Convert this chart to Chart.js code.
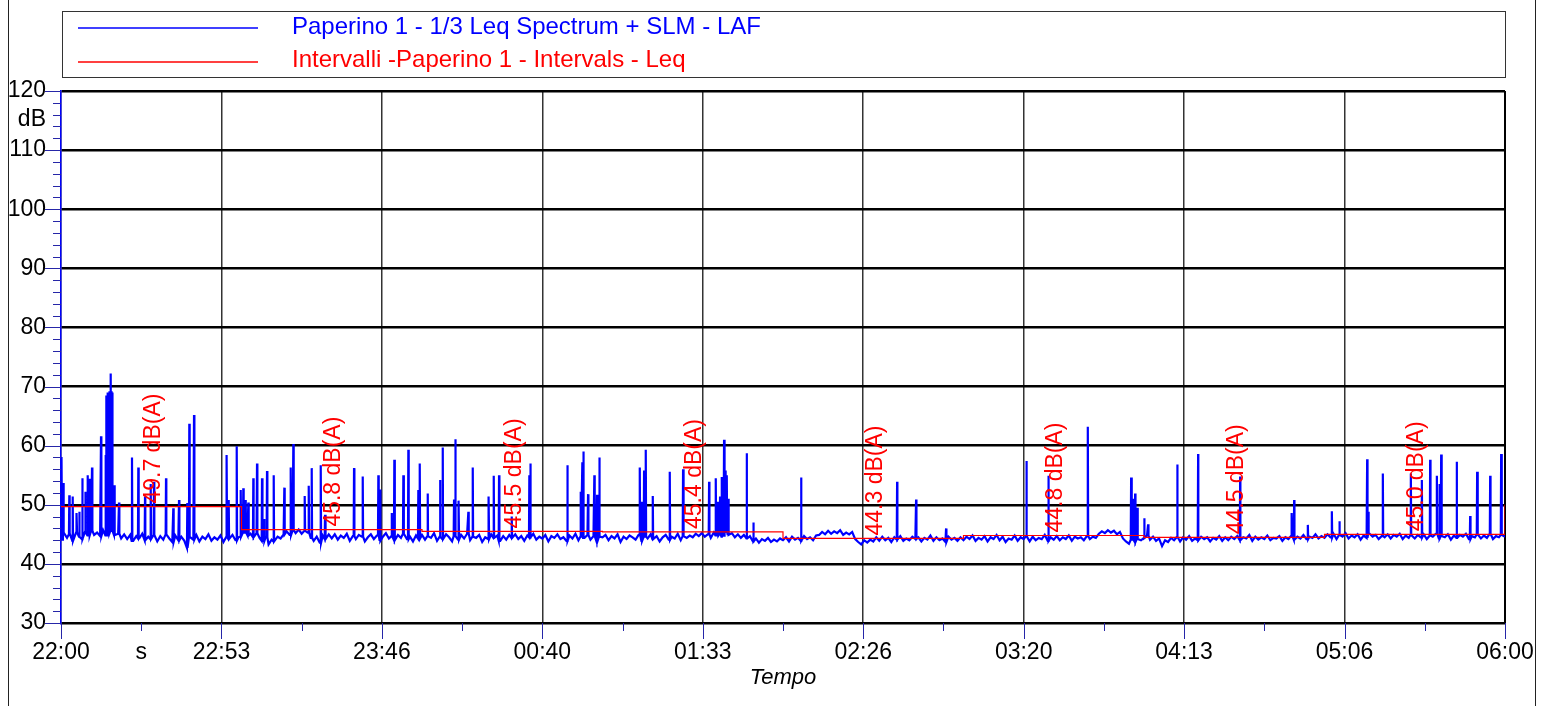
<!DOCTYPE html>
<html>
<head>
<meta charset="utf-8">
<title>Paperino 1 - LAF</title>
<script src="https://cdn.jsdelivr.net/npm/chart.js@4.4.0/dist/chart.umd.min.js"></script>
<style>
  html, body { margin: 0; padding: 0; background: #fff; }
  #wrap { position: relative; width: 1543px; height: 706px; }
</style>
</head>
<body>
<div id="wrap"><canvas id="leqChart"></canvas></div>
<script>
// x axis: minutes since 22:00, 18 ticks over the 8 hours (every other one labelled)
const xTickLabels = ["22:00", "s", "22:53", "", "23:46", "", "00:40", "", "01:33", "",
  "02:26", "", "03:20", "", "04:13", "", "05:06", "", "06:00"];
const totalMinutes = 480;

// LAF background level, one reading per minute from 22:00 to 06:00
const baseLevel = [
  44.1, 45.2, 44.4, 45.0, 43.9, 45.3, 44.6, 44.2, 45.4, 44.8, 45.6, 44.9, 45.3, 44.7, 45.7, 44.8, 45.2, 45.6, 44.9, 45.1, 44.3, 45.0, 44.2, 44.9, 43.9, 44.7, 44.3, 45.1, 44.0, 44.6,
  44.2, 44.9, 43.8, 44.7, 44.1, 45.0, 44.3, 43.7, 44.8, 44.0, 44.6, 43.9, 42.7, 44.5, 44.1, 44.9, 43.8, 44.6, 44.2, 45.0, 43.9, 44.5, 44.1, 44.8, 43.7, 44.6, 44.2, 44.9, 44.0, 44.5,
  44.6, 45.3, 44.8, 45.1, 44.5, 45.2, 44.4, 43.9, 44.5, 43.3, 44.1, 43.8, 44.6, 44.3, 45.0, 45.5, 44.9, 45.7, 45.2, 45.8, 45.1, 45.6, 45.3, 44.4, 43.9, 44.6, 43.6, 44.8, 44.2, 45.0,
  44.3, 45.0, 44.1, 44.8, 44.4, 45.1, 43.9, 44.7, 44.2, 44.9, 44.6, 43.8, 44.5, 45.0, 44.2, 44.8, 43.9, 44.6, 45.2, 44.3, 44.7, 44.0, 44.9, 44.4, 45.1, 44.2, 44.6, 43.8, 44.8, 44.3,
  44.9, 44.1, 44.7, 44.4, 45.2, 43.9, 44.6, 44.2, 45.0, 44.5, 43.8, 44.7, 44.1, 44.9, 44.3, 45.1, 44.0, 44.6, 44.4, 44.9, 43.7, 44.5, 44.2, 45.0, 44.4, 44.8, 43.9, 44.7, 44.1, 44.9,
  44.4, 45.0, 44.2, 44.7, 43.9, 44.8, 44.5, 45.1, 44.1, 44.6, 44.3, 44.9, 43.8, 44.7, 44.4, 45.0, 44.2, 44.5, 43.9, 44.8, 44.3, 45.1, 44.0, 44.6, 44.4, 44.9, 44.1, 44.7, 43.8, 44.6,
  44.5, 44.9, 44.0, 44.7, 44.3, 45.0, 43.7, 44.6, 44.2, 44.8, 44.5, 44.1, 44.9, 43.9, 44.6, 44.3, 45.0, 44.2, 44.7, 43.8, 44.5, 44.9, 44.1, 44.6, 44.3, 45.1, 44.0, 44.7, 44.4, 44.8,
  44.5, 45.1, 44.7, 45.2, 44.6, 45.0, 44.4, 45.3, 44.8, 45.1, 44.6, 45.4, 44.9, 45.2, 44.5, 45.0, 44.4, 44.9, 44.3, 44.7, 43.8, 44.3, 43.6, 44.2, 43.9, 44.4, 43.7, 44.1, 43.8, 44.3,
  44.0, 44.5, 43.8, 44.6, 44.1, 44.4, 43.9, 44.7, 44.2, 44.5, 44.0, 44.8, 44.9, 45.4, 45.0, 45.6, 45.1, 45.5, 45.2, 45.7, 44.9, 45.3, 45.0, 45.4, 44.2, 43.7, 43.3, 44.0, 43.6, 44.1,
  43.8, 44.5, 43.9, 44.6, 44.0, 44.4, 43.7, 44.5, 44.1, 44.7, 43.9, 44.3, 44.0, 44.6, 44.2, 44.5, 43.8, 44.4, 44.1, 44.8, 43.9, 44.5, 44.0, 44.3, 43.7, 44.6, 44.1, 44.4, 43.9, 44.5,
  44.0, 44.6, 44.2, 44.8, 43.9, 44.4, 44.1, 44.7, 43.8, 44.5, 44.2, 44.9, 44.0, 44.6, 43.7, 44.3, 44.1, 44.8, 43.9, 44.5, 44.2, 44.7, 43.8, 44.6, 44.0, 44.4, 44.2, 44.9, 43.9, 44.5,
  44.1, 44.7, 44.0, 44.5, 44.2, 44.8, 43.9, 44.6, 44.3, 44.5, 44.0, 44.7, 44.2, 44.6, 44.4, 45.1, 45.5, 45.2, 45.7, 45.3, 45.6, 45.0, 45.4, 44.3, 43.8, 43.4, 44.1, 43.7, 44.2, 44.0,
  44.4, 44.8, 44.1, 44.6, 43.9, 44.3, 43.0, 44.0, 43.7, 44.4, 44.0, 44.6, 43.8, 44.5, 44.1, 44.7, 43.9, 44.3, 44.0, 44.6, 44.2, 44.5, 43.8, 44.4, 44.1, 44.7, 43.9, 44.5, 44.0, 44.6,
  44.2, 44.7, 44.0, 44.5, 44.3, 44.9, 43.9, 44.6, 44.1, 44.5, 44.2, 44.8, 44.0, 44.4, 44.3, 44.7, 43.9, 44.5, 44.2, 44.8, 44.1, 44.6, 44.3, 44.9, 44.2, 44.6, 44.4, 45.0, 44.3, 44.7,
  44.4, 45.0, 44.5, 45.1, 44.2, 44.9, 44.6, 45.2, 44.3, 44.8, 44.5, 45.0, 44.1, 44.8, 44.4, 45.1, 44.6, 44.9, 44.2, 44.7, 44.5, 45.0, 44.3, 44.9, 44.6, 45.1, 44.2, 44.8, 44.4, 44.9,
  44.3, 44.9, 44.5, 45.0, 44.2, 44.8, 44.6, 45.1, 44.3, 44.7, 44.5, 45.0, 44.1, 44.8, 44.4, 44.9, 44.6, 45.1, 44.2, 44.7, 44.5, 45.0, 44.3, 44.8, 44.4, 45.1, 44.2, 44.7, 44.5, 44.9,
  44.6
];

// short noise events (minute, peak dB)
const spikeMinutes = [
  0.23, 0.76, 2.76, 3.89, 5.22, 6.08, 7.08, 8.08, 8.88, 9.41, 10.31, 13.30, 14.86,
  15.10, 15.46, 15.79, 16.12, 16.52, 16.79, 17.05, 17.72, 19.28, 23.60, 25.70, 27.93,
  29.82, 30.92, 34.91, 37.33, 39.23, 41.99, 42.65, 44.22, 55.09, 55.75, 58.41, 59.74,
  60.60, 61.40, 62.27, 63.93, 65.16, 66.82, 67.49, 68.48, 70.71, 74.24, 76.36, 77.23,
  81.02, 82.35, 83.34, 86.34, 87.77, 97.41, 100.30, 105.49, 106.05, 109.94, 110.80,
  113.80, 115.46, 118.78, 119.25, 121.91, 126.00, 126.90, 130.65, 131.08, 132.21,
  135.41, 136.87, 142.19, 143.85, 145.61, 149.83, 155.68, 156.02, 168.32, 172.77,
  173.30, 173.64, 175.20, 177.29, 178.19, 178.96, 192.39, 193.05, 193.82, 194.38,
  196.71, 202.36, 206.78, 215.43, 217.65, 218.42, 219.08, 219.65, 220.08, 220.41,
  220.74, 221.31, 221.74, 227.96, 230.15, 246.01, 277.93, 284.24, 294.21, 320.91,
  328.22, 341.32, 355.72, 356.38, 357.05, 357.71, 360.14, 361.37, 371.11, 377.99,
  391.96, 409.14, 409.91, 414.46, 422.44, 424.97, 434.18, 434.61, 439.39, 448.70,
  452.36, 455.12, 457.35, 458.21, 458.78, 463.99, 468.42, 470.74, 475.07, 478.72
];
const spikeLevels = [
  58.1, 53.7, 51.6, 51.4, 48.6, 48.8, 54.5, 52.2, 55.0, 54.4, 56.3, 61.6, 58.4,
  68.5, 69.0, 68.8, 69.2, 72.2, 69.2, 69.0, 53.3, 50.4, 58.0, 56.3, 51.4,
  53.5, 53.9, 54.5, 49.4, 50.8, 50.3, 63.7, 65.2, 58.4, 50.8, 59.9, 52.5,
  52.8, 50.8, 50.4, 54.5, 57.0, 54.5, 47.6, 55.7, 55.0, 52.9, 56.3, 60.3,
  51.5, 53.2, 56.2, 56.7, 48.3, 56.2, 54.8, 55.0, 52.6, 48.6, 57.6,
  55.0, 59.3, 52.5, 57.0, 51.9, 54.2, 59.7, 50.9, 61.1, 50.7,
  48.8, 56.3, 51.4, 54.9, 55.0, 48.0, 55.0, 57.0, 56.7, 52.2,
  57.2, 59.0, 51.8, 55.0, 51.7, 58.0, 56.3, 50.5, 55.8, 59.3,
  51.5, 55.6, 56.0, 53.9, 54.5, 50.5, 51.4, 54.7, 52.0, 61.0,
  55.8, 55.0, 51.0, 58.7, 47.0, 54.6, 53.9, 50.9, 46.0, 57.4,
  54.9, 63.2, 54.6, 51.0, 51.9, 49.5, 47.7, 46.7, 56.8, 58.6,
  54.8, 48.6, 50.8, 46.6, 48.9, 47.2, 57.7, 48.8, 55.3, 55.3,
  54.2, 57.6, 54.9, 53.5, 58.5, 57.3, 48.1, 55.6, 54.9, 58.6
];

// hourly intervals Leq (last value is the start of the next interval)
const intervalMinutes = [0, 60, 120, 180, 240, 300, 360, 420, 480];
const intervalLeq = [49.7, 45.8, 45.5, 45.4, 44.3, 44.8, 44.5, 45.0, 50.0];

const seriesNames = [
  "Paperino 1 - 1/3 Leq Spectrum + SLM - LAF",
  "Intervalli -Paperino 1 - Intervals - Leq"
];

const FONT = "'Liberation Sans', Arial, sans-serif";
const BLUE = "#0000ff";
const RED = "#ff0000";
const TICK_BLUE = "#2626a8";

// build the LAF trace: background readings plus each event as a narrow peak
const lafPoints = baseLevel.map((v, i) => ({ x: i, y: v }));
spikeMinutes.forEach((t, i) => {
  const base = baseLevel[Math.round(t)];
  lafPoints.push({ x: t - 0.12, y: base }, { x: t, y: spikeLevels[i] }, { x: t + 0.12, y: base });
});
lafPoints.sort((a, b) => a.x - b.x);

const leqPoints = intervalMinutes.map((m, i) => ({ x: m, y: intervalLeq[i] }));

const decorPlugin = {
  id: "decor",
  beforeDraw(chart) {
    const ctx = chart.ctx;
    ctx.save();
    ctx.fillStyle = "#fff";
    ctx.fillRect(0, 0, chart.width, chart.height);

    // outer frame sides
    ctx.strokeStyle = "#222";
    ctx.lineWidth = 1;
    ctx.beginPath();
    ctx.moveTo(8.5, 0);
    ctx.lineTo(8.5, chart.height);
    ctx.moveTo(1535.5, 0);
    ctx.lineTo(1535.5, chart.height);
    ctx.stroke();

    // legend
    ctx.strokeStyle = "#333";
    ctx.strokeRect(62.5, 11.5, 1443, 66);
    const colors = [BLUE, RED];
    const lineY = [28, 62];
    const textY = [33.5, 66.5];
    ctx.font = "24px " + FONT;
    ctx.textAlign = "left";
    ctx.textBaseline = "alphabetic";
    seriesNames.forEach((name, i) => {
      ctx.strokeStyle = colors[i];
      ctx.lineWidth = 1.5;
      ctx.beginPath();
      ctx.moveTo(78, lineY[i]);
      ctx.lineTo(258, lineY[i]);
      ctx.stroke();
      ctx.fillStyle = colors[i];
      ctx.fillText(name, 292, textY[i]);
    });
    ctx.restore();
  },
  afterDraw(chart) {
    const ctx = chart.ctx;
    const xs = chart.scales.x;
    const ys = chart.scales.y;
    const area = chart.chartArea;
    ctx.save();

    // tick marks
    ctx.strokeStyle = TICK_BLUE;
    ctx.lineWidth = 1;
    ctx.beginPath();
    xs.ticks.forEach((t, i) => {
      const px = Math.round(xs.getPixelForValue(t.value)) + 0.5;
      ctx.moveTo(px, area.bottom);
      ctx.lineTo(px, area.bottom + (i % 2 === 0 ? 16 : 8));
    });
    ys.ticks.forEach((t) => {
      const py = Math.round(ys.getPixelForValue(t.value)) + 0.5;
      ctx.moveTo(area.left, py);
      ctx.lineTo(area.left - (t.value % 10 === 0 ? 16 : 8), py);
    });
    ctx.stroke();

    // unit of the y axis
    ctx.fillStyle = "#000";
    ctx.font = "23px " + FONT;
    ctx.textAlign = "right";
    ctx.textBaseline = "middle";
    ctx.fillText("dB", 46, ys.getPixelForValue(115.1));

    // interval values, written upwards from the Leq line
    ctx.fillStyle = RED;
    ctx.textAlign = "left";
    ctx.textBaseline = "alphabetic";
    for (let i = 0; i < intervalMinutes.length - 1; i++) {
      const mid = (intervalMinutes[i] + intervalMinutes[i + 1]) / 2;
      const px = xs.getPixelForValue(mid) + 8.5;
      const py = ys.getPixelForValue(intervalLeq[i]) - 3;
      ctx.save();
      ctx.translate(px, py);
      ctx.rotate(-Math.PI / 2);
      ctx.fillText(intervalLeq[i].toFixed(1) + " dB(A)", 0, 0);
      ctx.restore();
    }
    ctx.restore();
  }
};

const ctx = document.getElementById("leqChart").getContext("2d");
const leqChart = new Chart(ctx, {
  type: "line",
  data: {
    datasets: [
      {
        label: seriesNames[0],
        data: lafPoints,
        borderColor: BLUE,
        borderWidth: 2.2,
        pointRadius: 0,
        tension: 0,
        order: 1,
      },
      {
        label: seriesNames[1],
        data: leqPoints,
        borderColor: RED,
        borderWidth: 1.2,
        pointRadius: 0,
        stepped: true,
        order: 0,
      },
    ],
  },
  options: {
    responsive: true,
    maintainAspectRatio: false,
    animation: false,
    layout: {
      padding: { top: 91, right: 38, left: 0, bottom: 0 },
    },
    scales: {
      x: {
        type: "linear",
        min: 0,
        max: totalMinutes,
        afterBuildTicks: function (scale) {
          scale.ticks = xTickLabels.map((_, i) => ({ value: (i * totalMinutes) / (xTickLabels.length - 1) }));
        },
        afterFit: function (scale) {
          scale.height = 83;
          scale.paddingLeft = 0;
          scale.paddingRight = 0;
        },
        ticks: {
          autoSkip: false,
          maxRotation: 0,
          padding: 16,
          color: "#000",
          font: { family: FONT, size: 23 },
          callback: function (value, index) {
            return xTickLabels[index];
          },
        },
        grid: {
          drawTicks: false,
          color: function (c) {
            if (c.index % 2 !== 0) return "rgba(0,0,0,0)";
            return c.index === xTickLabels.length - 1 ? "#000" : "#333";
          },
          lineWidth: function (c) {
            return c.index === xTickLabels.length - 1 ? 2 : 1.5;
          },
        },
        border: { display: false },
        title: {
          display: true,
          text: "Tempo",
          color: "#000",
          font: { family: FONT, size: 22, style: "italic" },
          padding: { top: 0, bottom: 15 },
        },
      },
      y: {
        min: 30,
        max: 120,
        afterFit: function (scale) {
          scale.width = 61;
        },
        ticks: {
          stepSize: 2,
          autoSkip: false,
          padding: 15,
          color: "#000",
          font: { family: FONT, size: 23 },
          callback: function (value) {
            return value % 10 === 0 ? value : "";
          },
        },
        grid: {
          drawTicks: false,
          color: function (c) {
            return c.tick && c.tick.value % 10 === 0 ? "#000" : "rgba(0,0,0,0)";
          },
          lineWidth: 2.5,
        },
        border: { color: BLUE, width: 1.5 },
      },
    },
    plugins: {
      legend: { display: false },
      tooltip: { enabled: false },
    },
  },
  plugins: [decorPlugin],
});
</script>
</body>
</html>
